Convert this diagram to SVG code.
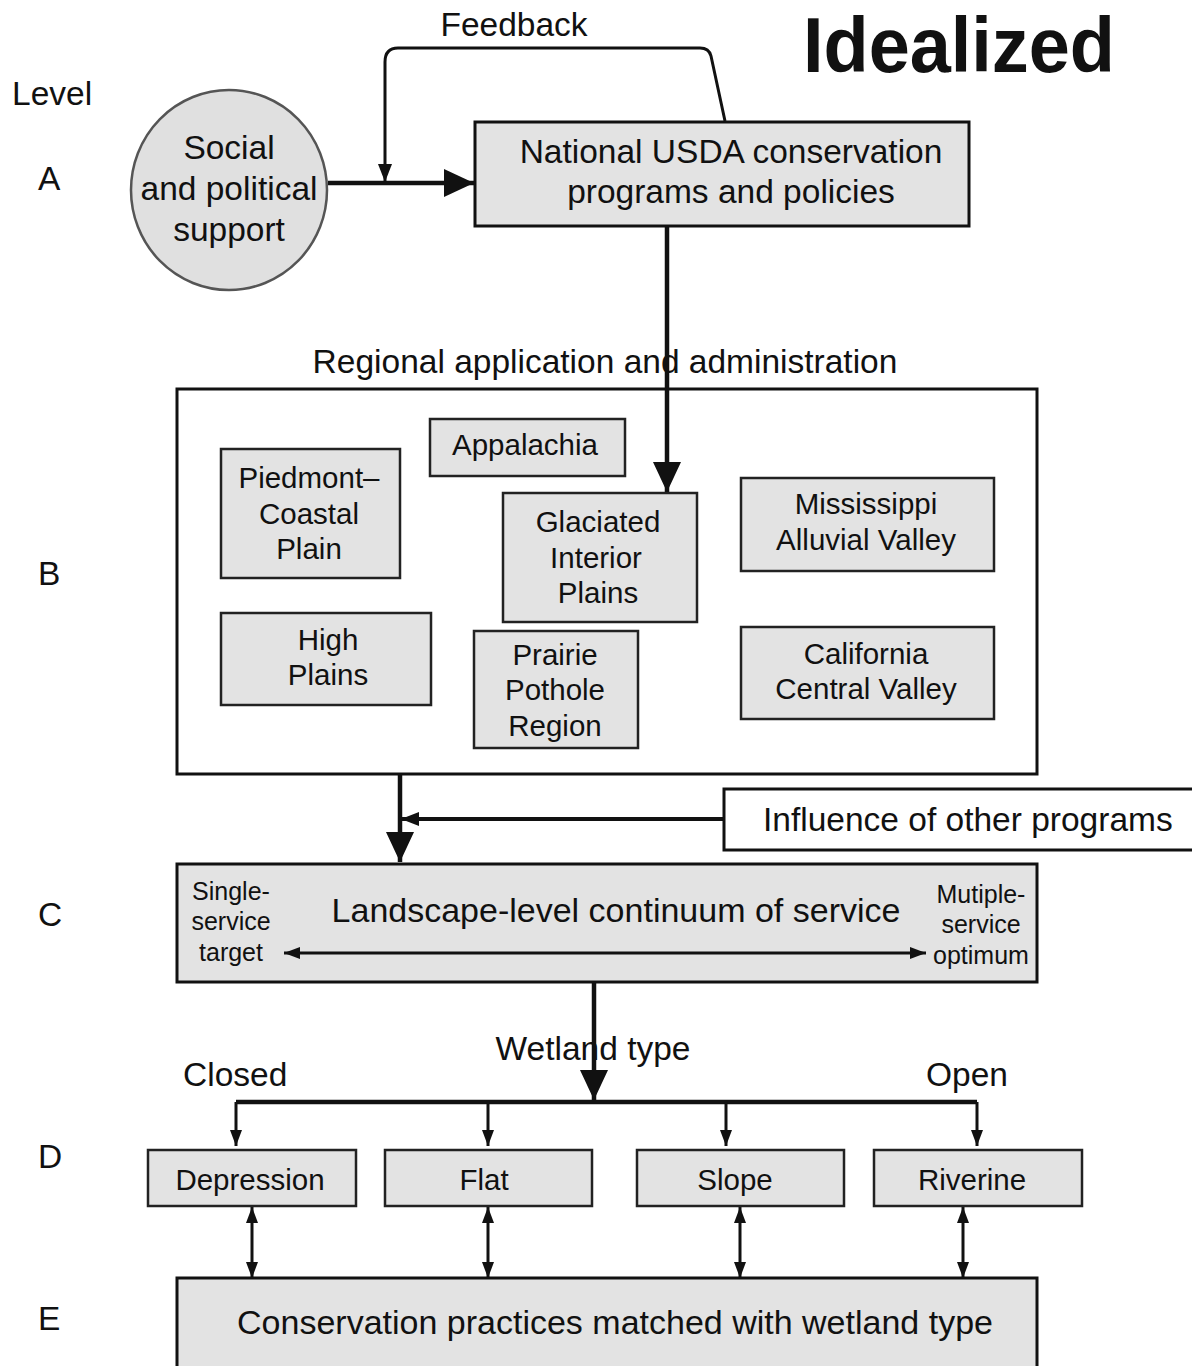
<svg xmlns="http://www.w3.org/2000/svg" width="1192" height="1366" viewBox="0 0 1192 1366">
<style>
text{font-family:"Liberation Sans",Arial,sans-serif;fill:#111}
.t30{font-size:33.5px}
.t28{font-size:29.5px}
.t24{font-size:25px}
.t34{font-size:34px}
.mid{text-anchor:middle}
.box{fill:#e3e3e3;stroke:#111;stroke-width:3}
.ibox{fill:#e3e3e3;stroke:#222;stroke-width:2.5}
.wbox{fill:#fff;stroke:#111;stroke-width:3}
.ln{fill:none;stroke:#111}
</style>
<defs>
<marker id="big" markerUnits="userSpaceOnUse" viewBox="0 0 30 28" refX="30" refY="14" markerWidth="30" markerHeight="28" orient="auto"><path d="M0,0 L30,14 L0,28 z" fill="#111"/></marker>
<marker id="small" markerUnits="userSpaceOnUse" viewBox="0 0 18 14" refX="18" refY="7" markerWidth="18" markerHeight="14" orient="auto"><path d="M0,0 L18,7 L0,14 z" fill="#111"/></marker>
<marker id="tiny" markerUnits="userSpaceOnUse" viewBox="0 0 16 12" refX="16" refY="6" markerWidth="16" markerHeight="12" orient="auto-start-reverse"><path d="M0,0 L16,6 L0,12 z" fill="#111"/></marker>
</defs>
<rect width="1192" height="1366" fill="#fff"/>

<text x="803" y="72" style="font-family:'Liberation Sans',Arial,sans-serif;font-size:78px;font-weight:bold" textLength="312" lengthAdjust="spacingAndGlyphs">Idealized</text>
<text class="t30" x="12" y="105">Level</text>
<text class="t30" x="38" y="190">A</text>
<text class="t30" x="38" y="585">B</text>
<text class="t30" x="38" y="926">C</text>
<text class="t30" x="38" y="1168">D</text>
<text class="t30" x="38" y="1330">E</text>
<text class="t30 mid" x="514" y="36">Feedback</text>

<g id="regional">
<rect class="wbox" x="177" y="389" width="860" height="385"/>
</g>

<g id="landscape">
<rect class="box" x="177" y="864" width="860" height="118"/>
<text class="t34 mid" x="616" y="922">Landscape-level continuum of service</text>
<text class="t24 mid" x="231" y="900">Single-</text>
<text class="t24 mid" x="231" y="930">service</text>
<text class="t24 mid" x="231" y="961">target</text>
<text class="t24 mid" x="981" y="903">Mutiple-</text>
<text class="t24 mid" x="981" y="933">service</text>
<text class="t24 mid" x="981" y="964">optimum</text>
</g>

<g id="connectors">
<line class="ln" x1="328" y1="183" x2="474" y2="183" stroke-width="4.5" marker-end="url(#big)"/>
<path class="ln" d="M725,121 L711,56 Q709,48 700,48 L398,48 Q385,48 385,62 L385,182" stroke-width="3" marker-end="url(#small)"/>
<line class="ln" x1="667" y1="226" x2="667" y2="492" stroke-width="4.5" marker-end="url(#big)"/>
<line class="ln" x1="400" y1="774" x2="400" y2="862" stroke-width="4.5" marker-end="url(#big)"/>
<line class="ln" x1="724" y1="819" x2="401" y2="819" stroke-width="4" marker-end="url(#small)"/>
<line class="ln" x1="284" y1="953" x2="926" y2="953" stroke-width="3" marker-start="url(#tiny)" marker-end="url(#tiny)"/>
<line class="ln" x1="594" y1="982" x2="594" y2="1100" stroke-width="4.5" marker-end="url(#big)"/>
<line class="ln" x1="236" y1="1102" x2="977" y2="1102" stroke-width="4.5"/>
<line class="ln" x1="236" y1="1102" x2="236" y2="1146" stroke-width="3" marker-end="url(#tiny)"/>
<line class="ln" x1="488" y1="1102" x2="488" y2="1146" stroke-width="3" marker-end="url(#tiny)"/>
<line class="ln" x1="726" y1="1102" x2="726" y2="1146" stroke-width="3" marker-end="url(#tiny)"/>
<line class="ln" x1="977" y1="1102" x2="977" y2="1146" stroke-width="3" marker-end="url(#tiny)"/>
<line class="ln" x1="252" y1="1207" x2="252" y2="1278" stroke-width="3" marker-start="url(#tiny)" marker-end="url(#tiny)"/>
<line class="ln" x1="488" y1="1207" x2="488" y2="1278" stroke-width="3" marker-start="url(#tiny)" marker-end="url(#tiny)"/>
<line class="ln" x1="740" y1="1207" x2="740" y2="1278" stroke-width="3" marker-start="url(#tiny)" marker-end="url(#tiny)"/>
<line class="ln" x1="963" y1="1207" x2="963" y2="1278" stroke-width="3" marker-start="url(#tiny)" marker-end="url(#tiny)"/>
</g>

<text class="t30 mid" x="605" y="373">Regional application and administration</text>
<text class="t30 mid" x="593" y="1060">Wetland type</text>
<text class="t30" x="183" y="1086">Closed</text>
<text class="t30 mid" x="967" y="1086">Open</text>

<g id="social">
<ellipse cx="229" cy="190" rx="98" ry="100" fill="#e0e0e0" stroke="#555" stroke-width="2.5"/>
<text class="t30 mid" x="229" y="159">Social</text>
<text class="t30 mid" x="229" y="200">and political</text>
<text class="t30 mid" x="229" y="241">support</text>
</g>

<g id="national">
<rect class="box" x="475" y="122" width="494" height="104"/>
<text class="t30 mid" x="731" y="163">National USDA conservation</text>
<text class="t30 mid" x="731" y="203">programs and policies</text>
</g>

<g id="appalachia">
<rect class="ibox" x="430" y="419" width="195" height="57"/>
<text class="t28 mid" x="525" y="455">Appalachia</text>
</g>
<g id="piedmont">
<rect class="ibox" x="221" y="449" width="179" height="129"/>
<text class="t28 mid" x="309" y="488">Piedmont–</text>
<text class="t28 mid" x="309" y="524">Coastal</text>
<text class="t28 mid" x="309" y="559">Plain</text>
</g>
<g id="glaciated">
<rect class="ibox" x="503" y="493" width="194" height="129"/>
<text class="t28 mid" x="598" y="532">Glaciated</text>
<text class="t28 mid" x="596" y="568">Interior</text>
<text class="t28 mid" x="598" y="603">Plains</text>
</g>
<g id="mississippi">
<rect class="ibox" x="741" y="478" width="253" height="93"/>
<text class="t28 mid" x="866" y="514">Mississippi</text>
<text class="t28 mid" x="866" y="550">Alluvial Valley</text>
</g>
<g id="highplains">
<rect class="ibox" x="221" y="613" width="210" height="92"/>
<text class="t28 mid" x="328" y="650">High</text>
<text class="t28 mid" x="328" y="685">Plains</text>
</g>
<g id="prairie">
<rect class="ibox" x="474" y="631" width="164" height="117"/>
<text class="t28 mid" x="555" y="665">Prairie</text>
<text class="t28 mid" x="555" y="700">Pothole</text>
<text class="t28 mid" x="555" y="736">Region</text>
</g>
<g id="california">
<rect class="ibox" x="741" y="627" width="253" height="92"/>
<text class="t28 mid" x="866" y="664">California</text>
<text class="t28 mid" x="866" y="699">Central Valley</text>
</g>

<g id="influence">
<rect class="wbox" x="724" y="789" width="480" height="61"/>
<text class="t30" x="763" y="831">Influence of other programs</text>
</g>

<g id="depression">
<rect class="ibox" x="148" y="1150" width="208" height="56"/>
<text class="t28 mid" x="250" y="1190">Depression</text>
</g>
<g id="flat">
<rect class="ibox" x="385" y="1150" width="207" height="56"/>
<text class="t28 mid" x="484" y="1190">Flat</text>
</g>
<g id="slope">
<rect class="ibox" x="637" y="1150" width="207" height="56"/>
<text class="t28 mid" x="735" y="1190">Slope</text>
</g>
<g id="riverine">
<rect class="ibox" x="874" y="1150" width="208" height="56"/>
<text class="t28 mid" x="972" y="1190">Riverine</text>
</g>

<g id="practices">
<rect class="box" x="177" y="1278" width="860" height="100"/>
<text class="t34 mid" x="615" y="1334">Conservation practices matched with wetland type</text>
</g>
</svg>
